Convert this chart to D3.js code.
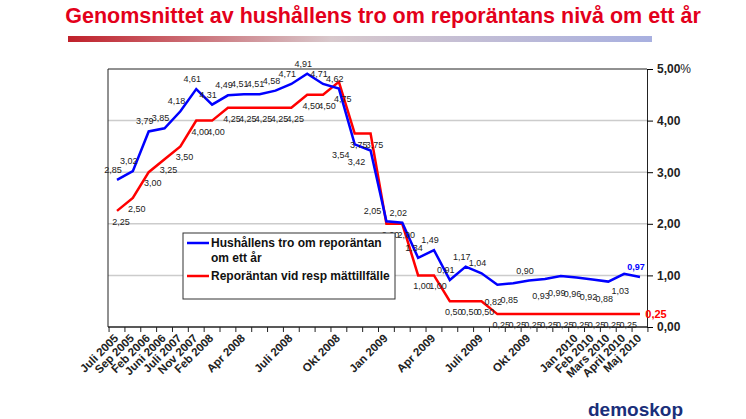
<!DOCTYPE html>
<html>
<head>
<meta charset="utf-8">
<script src="https://cdn.jsdelivr.net/npm/d3@7"></script>
<style>
  body { margin: 0; background: #fff; font-family: Arial, "Liberation Sans", sans-serif; }
</style>
</head>
<body>
<div id="svg"></div>
<script>
// chart data
const categories = ["Juli 2005", "Sep 2005", "Feb 2006", "Juni 2006", "Juli 2007", "Nov 2007", "Feb 2008", "", "Apr 2008", "", "",
  "Juli 2008", "", "", "Okt 2008", "", "", "Jan 2009", "", "", "Apr 2009", "", "", "Juli 2009", "", "", "Okt 2009",
  "", "", "Jan 2010", "Feb 2010", "Mars 2010", "April 2010", "Maj 2010"];
const hushallen = [2.85, 3.02, 3.79, 3.85, 4.18, 4.61, 4.31, 4.49, 4.51, 4.51, 4.58, 4.71, 4.91, 4.71, 4.62, 3.54, 3.42,
  2.05, 2.02, 1.34, 1.49, 0.91, 1.17, 1.04, 0.82, 0.85, 0.90, 0.93, 0.99, 0.96, 0.92, 0.88, 1.03, 0.97];
const reporantan = [2.25, 2.50, 3.00, 3.25, 3.50, 4.00, 4.00, 4.25, 4.25, 4.25, 4.25, 4.25, 4.50, 4.50, 4.75, 3.75, 3.75,
  2.00, 2.00, 1.00, 1.00, 0.50, 0.50, 0.50, 0.25, 0.25, 0.25, 0.25, 0.25, 0.25, 0.25, 0.25, 0.25, 0.25];
const yTicks = [0, 1, 2, 3, 4, 5];

const W = 746, H = 419;
const pLeft = 108, pRight = 647, pTop = 69, pBottom = 327;

const svg = d3.select("#svg").append("svg").attr("width", W).attr("height", H);

//Gradient bar under the title
const defs = svg.append("defs");
const grad = defs.append("linearGradient").attr("id", "bar");
grad.append("stop").attr("offset", "0%").attr("stop-color", "#c0202a");
grad.append("stop").attr("offset", "45%").attr("stop-color", "#d8c8cc");
grad.append("stop").attr("offset", "100%").attr("stop-color", "#a8b0e0");
svg.append("rect").attr("x", 68).attr("y", 36).attr("width", 584).attr("height", 6).attr("fill", "url(#bar)");

svg.append("text").attr("x", 383).attr("y", 23).attr("text-anchor", "middle")
  .style("font-size", "21.5px").style("font-weight", "bold").style("fill", "#e3001b")
  .text("Genomsnittet av hushållens tro om reporäntans nivå om ett år");

//Scales
const x = d3.scalePoint().domain(d3.range(categories.length)).range([117, 640]);
const y = d3.scaleLinear().domain([0, 5]).range([pBottom, pTop]);

//Grid
svg.append("g").selectAll("line").data(yTicks.slice(1, 5)).enter().append("line")
  .attr("x1", pLeft).attr("x2", pRight).attr("y1", d => y(d)).attr("y2", d => y(d))
  .style("stroke", "#cccccc").style("stroke-width", 1.5);

//Frame top and left
svg.append("path").attr("d", `M${pLeft},${pBottom}V${pTop}H${pRight}`).style("fill", "none").style("stroke", "#222");

//Right axis
const yAxis = svg.append("g").attr("transform", `translate(${pRight},0)`)
  .call(d3.axisRight(y).tickValues(yTicks).tickSize(6).tickFormat(d => d3.format(".2f")(d).replace(".", ",")));
yAxis.selectAll("text").style("font-size", "12px").style("font-weight", "bold").style("fill", "#222").attr("x", 10);
yAxis.select(".domain").style("stroke", "#222");
yAxis.selectAll(".tick").filter(d => d === 5).select("text")
  .append("tspan").style("font-weight", "normal").text("%");

//Bottom axis: ticks between categories
const step = x.step();
const bx = svg.append("g").attr("transform", `translate(0,${pBottom})`);
bx.append("line").attr("x1", pLeft).attr("x2", pRight).style("stroke", "#222").style("stroke-width", 1.5);
bx.selectAll(".t").data(d3.range(categories.length + 1)).enter().append("line")
  .attr("x1", d => x(0) - step / 2 + d * step).attr("x2", d => x(0) - step / 2 + d * step)
  .attr("y1", 0).attr("y2", 5).style("stroke", "#222");
bx.selectAll(".lab").data(categories).enter().append("text")
  .attr("transform", (d, i) => `translate(${x(i) + 2},12) rotate(-45)`)
  .attr("text-anchor", "end")
  .style("font-size", "11.5px").style("font-weight", "bold").style("fill", "#222")
  .text(d => d);

//Lines
const line = d3.line().x((d, i) => x(i)).y(d => y(d));
svg.append("path").datum(reporantan).attr("d", line).style("fill", "none").style("stroke", "#ff0000").style("stroke-width", 2.5);
svg.append("path").datum(hushallen).attr("d", line).style("fill", "none").style("stroke", "#0000ff").style("stroke-width", 2.5);

const fmt = v => d3.format(".2f")(v).replace(".", ",");

//Value labels
svg.append("g").selectAll("text").data(hushallen).enter().append("text")
  .attr("x", (d, i) => x(i) - (i >= 15 && i <= 17 ? 14 : 4))
  .attr("y", (d, i) => y(d) + (i >= 15 && i <= 16 ? 14 : i >= 24 && i !== 26 && i !== 33 ? 20 : -7))
  .attr("text-anchor", "middle")
  .style("font-size", "9px").style("font-weight", (d, i) => i === 33 ? "bold" : "normal")
  .style("fill", (d, i) => i === 33 ? "#0000ff" : "#222")
  .text(fmt);

svg.append("g").selectAll("text").data(reporantan).enter().append("text")
  .attr("x", (d, i) => i === 33 ? x(i) + 16 : x(i) + 4)
  .attr("y", (d, i) => i === 33 ? y(d) + 4 : y(d) + (i === 14 ? 20 : 14))
  .attr("text-anchor", "middle")
  .style("font-size", (d, i) => i === 33 ? "11px" : "9px")
  .style("font-weight", (d, i) => i === 33 ? "bold" : "normal")
  .style("fill", (d, i) => i === 33 ? "#ff0000" : "#222")
  .text(fmt);

//Legend
const lg = svg.append("g").attr("transform", "translate(183,233)");
lg.append("rect").attr("width", 212).attr("height", 66).style("fill", "#fff").style("stroke", "#333");
lg.append("line").attr("x1", 4).attr("x2", 26).attr("y1", 10).attr("y2", 10).style("stroke", "#0000ff").style("stroke-width", 2.5);
lg.append("line").attr("x1", 4).attr("x2", 26).attr("y1", 43).attr("y2", 43).style("stroke", "#ff0000").style("stroke-width", 2.5);
const lt = lg.append("text").style("font-size", "12px").style("font-weight", "bold").style("fill", "#111");
lt.append("tspan").attr("x", 28).attr("y", 14).text("Hushållens tro om reporäntan");
lt.append("tspan").attr("x", 28).attr("y", 29).text("om ett år");
lt.append("tspan").attr("x", 28).attr("y", 47).text("Reporäntan vid resp mättillfälle");

//Logo
svg.append("text").attr("x", 588).attr("y", 416).style("font-size", "19px").style("font-weight", "bold")
  .style("fill", "#1a2f7a").text("demoskop");
</script>
</body>
</html>
